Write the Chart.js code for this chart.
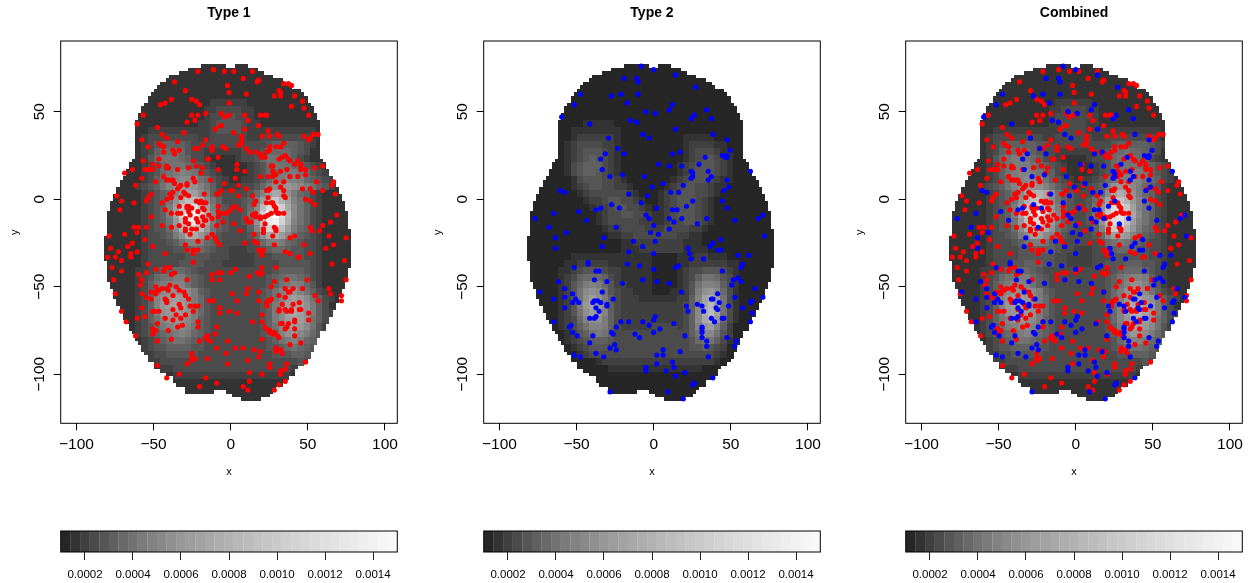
<!DOCTYPE html>
<html>
<head>
<meta charset="utf-8">
<style>
  body { margin: 0; background: #fff; }
  canvas { position: absolute; }
</style>
<script src="https://cdn.jsdelivr.net/npm/chart.js@4/dist/chart.umd.min.js"></script>
</head>
<body>
<script>
const xTicks = [-100, -50, 0, 50, 100];
const yTicks = [50, 0, -50, -100];
const barTicks = [0.0002, 0.0004, 0.0006, 0.0008, 0.001, 0.0012, 0.0014];

// density bands of the colour bar, and the grey of each level (base 36 in the level rows)
const bandValues = [0.00012, 0.00016, 0.0002, 0.00024, 0.00028, 0.00032, 0.00036, 0.0004, 0.00044, 0.00048, 0.00052, 0.00056, 0.0006, 0.00064, 0.00068, 0.00072, 0.00076, 0.0008, 0.00084, 0.00088, 0.00092, 0.00096, 0.001, 0.00104, 0.00108, 0.00112, 0.00116, 0.0012, 0.00124, 0.00128, 0.00132, 0.00136, 0.0014, 0.00144, 0.00148];
const grays = [38, 51, 64, 75, 86, 96, 105, 114, 123, 130, 137, 144, 151, 157, 162, 168, 173, 178, 184, 188, 193, 198, 202, 207, 211, 215, 219, 223, 227, 231, 234, 238, 241, 245, 248, 255];

// brain outline: y, first x, last x of each run of 2 unit cells
const maskRows = [[76,-18,-4],[76,4,10],[74,-26,16],[72,-32,20],[70,-38,26],[68,-40,32],[66,-44,36],[64,-46,38],[62,-48,44],[60,-50,46],[58,-52,48],[56,-52,48],[54,-54,50],[52,-56,52],[50,-56,52],[48,-58,54],[46,-58,54],[44,-60,56],[42,-60,56],[40,-60,56],[38,-60,56],[36,-60,56],[34,-60,56],[32,-60,56],[30,-60,56],[28,-60,56],[26,-60,56],[24,-60,56],[22,-62,58],[20,-64,60],[18,-64,60],[16,-66,62],[14,-66,62],[12,-68,64],[10,-70,66],[8,-70,66],[6,-72,68],[4,-72,68],[2,-74,70],[0,-74,70],[-2,-76,72],[-4,-76,72],[-6,-76,72],[-8,-78,74],[-10,-78,74],[-12,-78,74],[-14,-78,74],[-16,-78,74],[-18,-78,76],[-20,-78,76],[-22,-80,76],[-24,-80,76],[-26,-80,76],[-28,-80,76],[-30,-80,76],[-32,-80,76],[-34,-80,76],[-36,-78,76],[-38,-78,76],[-40,-78,74],[-42,-78,74],[-44,-78,74],[-46,-78,74],[-48,-76,72],[-50,-76,72],[-52,-74,70],[-54,-74,70],[-56,-74,68],[-58,-72,68],[-60,-72,66],[-62,-70,66],[-64,-70,64],[-66,-68,64],[-68,-68,62],[-70,-66,62],[-72,-64,60],[-74,-64,60],[-76,-62,56],[-78,-60,56],[-80,-60,54],[-82,-58,54],[-84,-56,52],[-86,-56,52],[-88,-54,50],[-90,-52,50],[-92,-52,48],[-94,-48,46],[-96,-48,42],[-98,-44,40],[-100,-40,40],[-102,-36,36],[-104,-36,32],[-106,-34,32],[-108,-28,28],[-110,-28,-12],[-110,-2,26],[-112,2,24],[-114,8,18]];

// density levels on a 4 unit grid: rows y = 76, 72 ... -112, columns x = -80, -76 ... 76
const type1Levels = [
"1111111111 1111111111 1111111111 1111111111",
"1111111111 1111111111 1111111111 1111111111",
"1111111111 1111111111 1111111111 1111111111",
"1111111111 1111111111 1111111111 1111111111",
"1111111111 1111111111 1111111111 1111111111",
"1111111111 1111111222 2221111111 1111111111",
"1111111111 1111112233 3322111111 1111111111",
"1111111111 1111112334 4332111111 1111111111",
"1111111111 1111122344 4432211111 1111111111",
"1111111222 2222222344 4432222222 2222111111",
"1111112333 3333322333 3332233333 3332111111",
"1111112345 5554333333 3333334555 5432111111",
"1111112356 6664332222 2233346666 5431111111",
"1111112467 7765332111 1233467776 5321111111",
"1111112346 7776543211 1112346777 6543211111",
"1111112346 7898754321 1112346788 8764321111",
"1111112356 89aa976432 1122346889 9865432111",
"1111123457 9bccb97532 2233468abc ba87542111",
"1111112345 69ceda8543 333469dfeb 8653211111",
"1111112345 7bgkjfa753 33458djlhd 9753211111",
"1111112345 8dlsrld854 3346ajrtnf a753211111",
"1111112345 8enwxqg954 3347cnyzqh a753211111",
"1111112345 7cktune854 3346bkuwog 9753211111",
"1111112344 6agmnic754 33359hopjd 8653211111",
"1111112334 58bffc9643 33346bfgda 7543211111",
"1111112333 4579986543 3333468986 5433211111",
"1111112333 3445665433 2223345665 4433211111",
"1111112333 3334444333 2222333444 4433211111",
"1111112333 3344443332 2222333344 4443211111",
"1111122345 5665433333 3333333455 5543211111",
"1111123467 7886543333 3333334567 7653211111",
"1111123578 9997543333 3333334578 9864211111",
"111112358a bbba854333 333334579b b975321111",
"111112359b cdcb864333 333334579c dca7532111",
"111112359c dedb864333 33333458ad edb8531111",
"111112358b cdcb864333 33333458ae fdb8532111",
"1111123579 bcba854333 33333458ad edb7532111",
"1111123468 9aa9754333 33333457ac dca7421111",
"1111123456 7898654333 333334569b ca86421111",
"1111112345 6776543333 3333334578 9865321111",
"1111112344 5555443333 3333334456 7654321111",
"1111112233 4444433333 3333333444 5543211111",
"1111111223 3333333333 3333333333 3432111111",
"1111111112 2333333333 3333333333 2221111111",
"1111111111 1222222222 2222222222 1111111111",
"1111111111 1111111111 1111111111 1111111111",
"1111111111 1111111111 1111111111 1111111111",
"1111111111 1111111111 1111111111 1111111111"
];
const type2Levels = [
"0000000000 0000000000 0000000000 0000000000",
"0000000000 0000000000 0000000000 0000000000",
"0000000000 0000000000 0000000000 0000000000",
"0000000000 0000000000 0000000000 0000000000",
"0000000000 0000000000 0000000000 0000000000",
"0000000000 0000000000 0000000000 0000000000",
"0000000000 0000000000 0000000000 0000000000",
"0000000000 0000000000 0000000000 0000000000",
"0000000001 1111000000 0000000000 0000000000",
"0000000111 1111100000 0000000000 0000000000",
"0000000122 2222100000 0000011111 0000000000",
"0000001233 3322100000 0000012222 1100000000",
"0000001234 4432100000 0000012333 2110000000",
"0000001234 5432100000 0000012344 3210000000",
"0000001345 5532100000 0000123444 3210000000",
"0000001345 5432100000 0000123444 3210000000",
"0000000134 4433210000 0001234443 2110000000",
"0000000123 4433221000 0012344332 1100000000",
"0000000012 3333332100 0123444332 1000000000",
"0000000001 2234433210 0123444321 0000000000",
"0000000000 1223443321 0123444321 0000000000",
"0000000000 0123344332 1123444321 0000000000",
"0000000000 0123333322 1123344321 0000000000",
"0000000000 0012233332 2233332210 0000000000",
"0000000000 0001122333 3333221100 0000000000",
"0000000000 0000011222 2222211100 0000000000",
"0000000000 0000011122 2222211110 0000000000",
"0000000111 1111111111 0000111221 1100000000",
"0000001122 2221111111 0000112222 2211000000",
"0000011234 4432211111 0000123344 4321000000",
"0000012356 6653211111 0000123577 6431000000",
"0000012468 9864221111 0000124799 8531000000",
"000001247a ba74322111 00011248bc a631000000",
"000001247b db85322211 11112259eg d731000000",
"000001248c ec95322222 2222235afi e731000000",
"000001247b dc95322222 2222235agj e731000000",
"0000012369 bb85322222 2222235afh c631000000",
"0000012357 9985322222 33332359cd 9520000000",
"0000001245 7875333333 33333357aa 7420000000",
"0000001234 5554333333 3333334677 5310000000",
"0000000123 4443333333 3333334454 3200000000",
"0000000012 3333333333 3333333333 2100000000",
"0000000000 0122222222 2222222222 1000000000",
"0000000000 0001111111 1111111100 0000000000",
"0000000000 0000000000 0000000000 0000000000",
"0000000000 0000000000 0000000000 0000000000",
"0000000000 0000000000 0000000000 0000000000",
"0000000000 0000000000 0000000000 0000000000"
];
const combinedLevels = [
"1111111111 1111111111 1111111111 1111111111",
"1111111111 1111111111 1111111111 1111111111",
"1111111111 1111111111 1111111111 1111111111",
"1111111111 1111111111 1111111111 1111111111",
"1111111111 1111111111 1111111111 1111111111",
"1111111111 1111111222 2221111111 1111111111",
"1111111111 1111112233 3322111111 1111111111",
"1111111111 1111112333 3332111111 1111111111",
"1111111111 1111112233 3322111111 1111111111",
"1111111222 2222222233 3322222222 2222111111",
"1111112333 3333322333 3332233333 3332111111",
"1111112345 5555443333 3333334555 5543211111",
"1111112356 6765433222 2223346676 6543111111",
"1111112467 8876533211 1123346777 6532111111",
"1111112357 8887654321 1112346777 7654321111",
"1111112357 8998765321 1112346788 8754321111",
"1111112356 89aa975432 1223467889 9765321111",
"1111123457 9bccb97543 223458bcca 8654211111",
"1111112345 7aeghfb754 33346aegeb 8653211111",
"1111112345 7bgkkfa754 33469ejkhc 9753211111",
"1111112345 8dkqpjc854 3347bjqsle 9753211111",
"1111112345 8emrsme964 3347clrsmf a753211111",
"1111112345 7cjqrkd854 3346bjqrkd 9753211111",
"1111112344 6afkkfb754 33359gmnhc 8653211111",
"1111112334 58adda9643 33346adec9 7543211111",
"1111112333 4578875433 3333467876 5433211111",
"1111112333 3445555433 2223345665 4433211111",
"1111112333 3444444332 2223334444 4433211111",
"1111112333 4455544332 2223344455 5443211111",
"1111122345 5665433333 3333334566 6543211111",
"1111123467 7886543333 3333345789 9853211111",
"1111123578 9997543333 333334579b b964211111",
"111112358a bbba854333 33333468bd ca75321111",
"111112359b cdcb864333 33333468ce ecb8532111",
"111112359c dedb864333 33333469df gec8531111",
"111112358b cdcb864333 33333469dg hec8532111",
"1111123579 bcba854333 33333469cf gdb7532111",
"1111123468 9aa9754333 33333458be eca7421111",
"1111123456 7898654333 33333457ac ca86421111",
"1111112345 6776543333 3333334689 9865321111",
"1111112344 5555443333 3333334567 7654321111",
"1111112233 4444433333 3333333445 5543211111",
"1111111223 3333333333 3333333333 3432111111",
"1111111112 2333333333 3333333333 2221111111",
"1111111111 1222222222 2222222222 1111111111",
"1111111111 1111111111 1111111111 1111111111",
"1111111111 1111111111 1111111111 1111111111",
"1111111111 1111111111 1111111111 1111111111"
];

const type1Points = [[-21,73],[-11,74],[-4,73],[2,73],[14,73],[8,69],[18,68],[17,67],[-36,67],[-2,65],[34,66],[37,66],[39,65],[31,62],[32,61],[-29,62],[-1,61],[10,60],[28,59],[32,59],[41,59],[-38,57],[-25,57],[-22,56],[-20,54],[-42,55],[-45,54],[-1,55],[46,56],[39,53],[47,52],[-6,49],[-1,48],[-16,49],[-21,48],[-25,48],[-4,47],[-56,48],[9,48],[19,48],[22,48],[23,48],[50,48],[11,45],[-23,45],[-28,44],[-60,43],[18,42],[-7,42],[-6,42],[-10,40],[-47,41],[9,40],[-30,38],[2,38],[24,39],[30,37],[-44,37],[-41,35],[47,36],[53,37],[56,37],[51,35],[50,34],[20,36],[25,36],[31,36],[7,36],[7,34],[-16,34],[-57,34],[-34,33],[7,32],[6,31],[5,31],[-46,32],[-45,31],[-43,30],[-18,31],[-12,30],[-12,29],[-12,28],[-53,30],[-5,30],[-3,29],[-23,29],[-21,29],[10,29],[25,30],[29,30],[32,30],[34,32],[-37,28],[-43,27],[-33,28],[-36,26],[16,27],[12,27],[19,26],[23,27],[25,28],[19,25],[20,24],[22,24],[35,25],[33,24],[31,23],[38,22],[37,23],[43,22],[-46,23],[-8,24],[-14,23],[-15,23],[-24,22],[41,20],[45,20],[-56,22],[-50,20],[-46,19],[4,20],[26,19],[27,19],[-41,19],[-40,18],[-41,18],[-27,18],[-22,19],[-18,18],[-8,17],[4,17],[45,19],[45,17],[54,18],[59,19],[-55,17],[-53,17],[-51,17],[-50,17],[-34,17],[-63,17],[-68,15],[36,17],[48,17],[27,16],[28,15],[29,14],[32,16],[9,16],[-19,15],[48,14],[38,13],[43,13],[19,13],[24,13],[27,13],[-43,13],[-57,12],[-41,11],[-40,11],[-38,11],[-37,11],[-24,12],[-23,10],[-48,10],[-13,11],[3,12],[34,10],[29,10],[55,10],[66,10],[-36,9],[-28,9],[-28,8],[-32,8],[-33,7],[-34,6],[-4,9],[5,8],[32,7],[65,8],[-61,8],[10,6],[46,6],[51,6],[59,5],[25,6],[23,5],[24,5],[34,5],[-6,5],[-8,3],[-9,3],[0,5],[1,5],[5,2],[-37,4],[-30,4],[-29,3],[-27,2],[-32,1],[-39,3],[-17,3],[53,4],[67,3],[-73,2],[34,2],[35,1],[14,2],[24,1],[-53,1],[-51,3],[-54,-1],[-41,0],[-38,1],[48,0],[51,-1],[-70,-1],[-62,-2],[-44,-2],[-22,-1],[-20,-2],[-19,-1],[-18,-2],[-16,-2],[-8,-4],[26,-2],[27,-2],[23,-2],[28,-4],[15,-3],[16,-1],[54,-3],[-33,-4],[-28,-4],[-27,-4],[-28,-5],[-25,-5],[-71,-6],[3,-4],[1,-5],[6,-6],[-42,-6],[-21,-7],[-18,-5],[-17,-6],[-14,-9],[-8,-7],[-6,-8],[-3,-8],[-1,-7],[29,-5],[29,-7],[30,-8],[31,-8],[26,-8],[22,-10],[24,-9],[14,-9],[16,-8],[16,-10],[19,-11],[34,-8],[-38,-8],[-34,-8],[-32,-8],[-27,-7],[-26,-9],[-51,-10],[-18,-10],[10,-11],[68,-9],[-29,-11],[-29,-13],[-22,-11],[-21,-13],[-17,-12],[-16,-12],[-12,-11],[-8,-10],[-5,-13],[11,-13],[13,-13],[19,-10],[22,-14],[59,-15],[64,-13],[-44,-15],[-62,-16],[-59,-16],[-54,-16],[-38,-16],[-33,-15],[-27,-14],[-18,-15],[-9,-15],[2,-14],[28,-16],[29,-17],[51,-16],[-29,-17],[-25,-17],[-22,-17],[21,-17],
[-78,-21],[-68,-20],[-60,-19],[-55,-23],[-29,-18],[-26,-20],[-15,-22],[-12,-20],[-10,-22],[-9,-24],[-7,-26],[-21,-24],[-29,-26],[-28,-29],[-24,-29],[-21,-29],[-24,-31],[-50,-27],[-63,-25],[-66,-27],[-77,-28],[-72,-30],[-74,-33],[-79,-33],[-70,-35],[-64,-31],[-64,-33],[-60,-30],[-42,-31],[-24,-36],[-53,-37],[-76,-39],[-70,-41],[-59,-43],[-54,-42],[-48,-40],[-42,-39],[-43,-41],[-39,-39],[-38,-43],[-36,-42],[-12,-43],[-8,-42],[-6,-42],[0,-42],[3,-40],[12,-44],[-12,-46],[-7,-46],[-28,-46],[-57,-46],[-58,-49],[-75,-46],[-74,-54],[-48,-50],[-46,-52],[-44,-51],[-41,-51],[-40,-52],[-39,-49],[-35,-50],[-33,-52],[-30,-53],[-29,-55],[-37,-55],[-27,-57],[-48,-53],[-48,-54],[-51,-53],[-57,-54],[-54,-56],[-51,-57],[-42,-57],[-41,-58],[-41,-59],[-33,-60],[-32,-62],[-37,-63],[-26,-61],[-23,-61],[-21,-61],[-14,-58],[-11,-58],[-7,-62],[-7,-65],[-1,-64],[4,-65],[4,-58],[1,-54],[10,-54],[11,-51],[18,-53],[18,-58],[26,-50],[28,-47],[36,-46],[49,-46],[46,-51],[35,-51],[37,-53],[38,-53],[40,-51],[31,-55],[35,-56],[33,-60],[24,-58],[25,-58],[23,-59],[26,-57],[23,-61],[40,-60],[44,-59],[-57,-62],[-50,-64],[-49,-64],[-46,-64],[-35,-66],[-32,-68],[-29,-66],[-24,-64],[-55,-67],[-60,-68],[-70,-64],[-67,-70],[-42,-68],[-37,-69],[-47,-71],[-31,-72],[-21,-70],[31,-63],[31,-64],[35,-63],[36,-64],[39,-63],[39,-64],[44,-63],[45,-63],[50,-65],[50,-69],[20,-66],[20,-70],[14,-70],[33,-71],[32,-71],[37,-71],[36,-73],[35,-74],[41,-69],[41,-70],[41,-74],[-50,-74],[-48,-75],[-50,-77],[-34,-73],[-40,-75],[-21,-73],[-9,-73],[-10,-77],[22,-73],[23,-74],[25,-75],[25,-76],[27,-77],[28,-76],[30,-78],[31,-79],[41,-78],[-61,-78],[-15,-78],[-16,-79],[-15,-80],[-13,-81],[-20,-81],[-38,-80],[-47,-81],[-2,-81],[20,-80],[45,-82],[38,-83],[-9,-85],[3,-85],[8,-85],[15,-86],[19,-87],[29,-85],[29,-87],[32,-86],[33,-88],[-3,-88],[-25,-88],[-23,-91],[-25,-91],[-25,-92],[-15,-91],[18,-90],[11,-92],[-2,-94],[-28,-94],[-47,-95],[25,-94],[25,-96],[36,-94],[35,-97],[48,-93],[32,-98],[32,-100],[20,-100],[12,-99],[12,-104],[-33,-100],[-41,-102],[-16,-102],[35,-104],[31,-106],[-9,-105],[8,-107],[11,-109],[-20,-107],[28,-109],
[9,-25],[15,-20],[21,-19],[6,-18],[27,-21],[29,-18],[15,-24],[17,-25],[28,-26],[18,-29],[21,-29],[19,-30],[20,-32],[35,-30],[38,-31],[43,-33],[44,-33],[51,-31],[47,-26],[38,-22],[41,-21],[52,-18],[57,-18],[63,-21],[74,-22],[61,-28],[66,-26],[73,-35],[65,-37],[20,-39],[29,-39],[17,-42],[19,-43],[20,-42],[74,-46],[63,-51],[64,-54],[54,-55],[56,-58],[71,-55],[71,-58]];

const type2Points = [[-8,76],[0,74],[14,71],[-19,69],[-11,69],[-10,67],[27,64],[-47,60],[-21,60],[-27,59],[-10,60],[-51,54],[-17,55],[12,54],[10,51],[-5,50],[1,49],[34,51],[26,48],[24,46],[37,46],[-59,47],[-15,45],[-11,44],[-41,43],[14,40],[-7,37],[-3,35],[38,37],[-29,35],[47,34],[-23,29],[-31,26],[-19,26],[49,28],[17,27],[12,26],[-34,23],[33,24],[44,25],[47,25],[46,24],[47,24],[3,20],[10,19],[18,19],[29,20],[-33,17],[24,16],[25,15],[35,16],[62,16],[37,13],[-28,13],[-20,14],[-6,13],[25,13],[24,12],[35,11],[47,11],[48,7],[6,9],[19,8],[-1,7],[45,5],[-60,5],[-57,4],[11,4],[16,4],[-16,3],[-4,2],[44,-1],[25,-1],[-27,-3],[-8,-2],[21,-4],[-34,-5],[-37,-6],[-22,-5],[2,-5],[47,-5],[15,-6],[12,-6],[-64,-8],[-48,-7],[70,-9],[-5,-9],[18,-11],[-3,-11],[-76,-11],[67,-11],[10,-11],[34,-11],[52,-12],[-43,-12],[13,-13],[28,-14],[0,-15],[-67,-16],[-24,-16],[10,-17],
[-56,-19],[-63,-22],[-63,-28],[-32,-22],[-33,-27],[-2,-19],[3,-20],[-13,-24],[-7,-27],[1,-24],[71,-21],[-16,-30],[0,-31],[22,-28],[23,-31],[24,-34],[32,-34],[36,-27],[38,-25],[41,-29],[43,-29],[43,-23],[54,-32],[61,-32],[57,-37],[56,-39],[-42,-36],[-42,-37],[-51,-39],[-17,-37],[-9,-38],[0,-40],[14,-39],[16,-38],[-37,-41],[-35,-41],[44,-41],[-61,-47],[-38,-46],[-30,-47],[-20,-48],[-7,-46],[2,-47],[10,-48],[51,-46],[54,-45],[56,-47],[50,-49],[-73,-53],[-57,-51],[-52,-54],[-33,-53],[18,-53],[41,-54],[65,-51],[-64,-57],[-57,-56],[-50,-57],[-48,-59],[-52,-59],[-39,-59],[-38,-58],[-36,-58],[-34,-59],[-30,-60],[-30,-61],[-26,-57],[37,-57],[38,-57],[42,-59],[52,-56],[70,-56],[63,-58],[62,-59],[-57,-62],[-37,-62],[-35,-64],[21,-61],[22,-64],[28,-60],[31,-61],[32,-64],[40,-62],[41,-63],[48,-61],[57,-62],[63,-65],[-64,-70],[-41,-68],[-38,-68],[-37,-67],[1,-67],[0,-69],[-7,-70],[-21,-70],[-16,-70],[37,-68],[39,-70],[44,-68],[45,-68],[62,-70],[-53,-72],[-54,-73],[-24,-73],[-3,-72],[13,-71],[4,-74],[31,-73],[31,-74],[31,-76],[-52,-76],[-49,-78],[-27,-76],[-26,-77],[-12,-77],[0,-76],[-9,-79],[20,-78],[-39,-78],[-41,-82],[31,-79],[34,-81],[47,-79],[53,-81],[52,-84],[34,-84],[-28,-85],[-25,-83],[-24,-86],[-37,-88],[6,-86],[17,-87],[-51,-89],[-47,-90],[-32,-90],[2,-89],[6,-89],[35,-90],[2,-94],[12,-93],[13,-96],[-5,-96],[-5,-98],[8,-98],[20,-99],[14,-101],[38,-102],[26,-105],[25,-106],[-28,-110],[9,-110],[19,-114]];

// my readings of x came out about 1% short of the axis
const xReadFix = 1.011;
const fontFamily = '"Liberation Sans", Helvetica, Arial, sans-serif';

// one small swatch per level, used as point style for the image cells
const swatches = grays.map(g => {
    const c = document.createElement("canvas");
    c.width = 4;
    c.height = 4;
    const cx = c.getContext("2d");
    cx.fillStyle = `rgb(${g},${g},${g})`;
    cx.fillRect(0, 0, 4, 4);
    return c;
});

function cellsFrom(levels) {
    const cells = [];
    for (const [y, x0, x1] of maskRows) {
        const row = levels[Math.floor((76 - y) / 4)].replace(/ /g, "");
        for (let x = x0; x <= x1; x += 2) {
            const ch = row[Math.floor((x + 80) / 4)] || "0";
            cells.push({ x: x * xReadFix, y: y, level: parseInt(ch, 36) });
        }
    }
    return cells;
}

function asXY(points) {
    return points.map(p => ({ x: p[0] * xReadFix, y: p[1] }));
}

const boxPlugin = {
    id: "box",
    afterDatasetsDraw(chart) {
        const a = chart.chartArea;
        const ctx = chart.ctx;
        ctx.save();
        ctx.strokeStyle = "#000";
        ctx.lineWidth = 1;
        ctx.strokeRect(a.left, a.top, a.right - a.left, a.bottom - a.top);
        ctx.restore();
    }
};

function addCanvas(left, top, width, height) {
    const c = document.createElement("canvas");
    c.width = width;
    c.height = height;
    c.style.left = left + "px";
    c.style.top = top + "px";
    document.body.appendChild(c);
    return c;
}

function rTick(v) {
    return v < 0 ? "\u2212" + Math.abs(v) : String(v);
}

function drawPanel(left, title, levels, pointSets) {
    const datasets = pointSets.map((s, i) => ({
        label: s.label,
        data: asXY(s.points),
        backgroundColor: s.color,
        borderWidth: 0,
        pointRadius: 2.6,
        order: i
    }));
    datasets.push({
        label: "density",
        data: cellsFrom(levels),
        pointStyle: ctx => swatches[ctx.raw.level],
        pointRadius: 2,
        order: 5
    });
    new Chart(addCanvas(left, 0, 410, 500), {
        type: "scatter",
        data: { datasets: datasets },
        plugins: [boxPlugin],
        options: {
            responsive: false,
            animation: false,
            events: [],
            layout: { padding: { right: 12.7 } },
            plugins: {
                legend: { display: false },
                tooltip: { enabled: false },
                title: {
                    display: true,
                    text: title,
                    fullSize: false,
                    color: "#000",
                    font: { family: fontFamily, size: 14, weight: "bold" },
                    padding: { top: 5, bottom: 19.2 }
                }
            },
            scales: {
                x: {
                    type: "linear",
                    min: -110.2,
                    max: 108,
                    afterBuildTicks: s => { s.ticks = xTicks.map(v => ({ value: v })); },
                    afterFit: s => { s.height = 76.7; },
                    grid: { drawOnChartArea: false, tickLength: 7, tickColor: "#000", tickWidth: 1 },
                    border: { display: false },
                    ticks: { callback: rTick, color: "#000", font: { family: fontFamily, size: 15.5 }, padding: 5, maxRotation: 0, autoSkip: false },
                    title: { display: true, text: "x", color: "#000", font: { family: fontFamily, size: 11 }, padding: { top: 0, bottom: 21 } }
                },
                y: {
                    type: "linear",
                    min: -128,
                    max: 90.4,
                    afterBuildTicks: s => { s.ticks = yTicks.map(v => ({ value: v })); },
                    afterFit: s => { s.width = 60.7; },
                    grid: { drawOnChartArea: false, tickLength: 7, tickColor: "#000", tickWidth: 1 },
                    border: { display: false },
                    ticks: { callback: rTick, color: "#000", font: { family: fontFamily, size: 15.5 }, padding: -3, minRotation: 90, maxRotation: 90, crossAlign: "center", autoSkip: false },
                    title: { display: true, text: "y", color: "#000", font: { family: fontFamily, size: 11 }, padding: { top: 8, bottom: 0 } }
                }
            }
        }
    });
}

function drawColorBar(left) {
    new Chart(addCanvas(left, 520, 410, 63), {
        type: "bar",
        data: {
            datasets: [{
                data: bandValues.map(v => ({ x: v, y: 1 })),
                backgroundColor: grays.slice(0, bandValues.length).map(g => `rgb(${g},${g},${g})`),
                barPercentage: 1.02,
                categoryPercentage: 1,
                borderWidth: 0
            }]
        },
        plugins: [boxPlugin],
        options: {
            responsive: false,
            animation: false,
            events: [],
            layout: { padding: { left: 60.7, right: 12.7, top: 11 } },
            plugins: { legend: { display: false }, tooltip: { enabled: false } },
            scales: {
                x: {
                    type: "linear",
                    offset: false,
                    min: 0.0000988,
                    max: 0.0015012,
                    afterBuildTicks: s => { s.ticks = barTicks.map(v => ({ value: v })); },
                    afterFit: s => { s.height = 31; },
                    grid: { offset: false, drawOnChartArea: false, tickLength: 8, tickColor: "#222", tickWidth: 1 },
                    border: { display: false },
                    ticks: { callback: v => v.toFixed(4), color: "#000", font: { family: fontFamily, size: 11.5 }, padding: 8, maxRotation: 0, autoSkip: false }
                },
                y: { display: false, min: 0, max: 1 }
            }
        }
    });
}

drawPanel(0, "Type 1", type1Levels, [{ label: "Type 1", points: type1Points, color: "#ff0000" }]);
drawPanel(423, "Type 2", type2Levels, [{ label: "Type 2", points: type2Points, color: "#0000ff" }]);
drawPanel(845, "Combined", combinedLevels, [
    { label: "Type 2", points: type2Points, color: "#0000ff" },
    { label: "Type 1", points: type1Points, color: "#ff0000" }
]);
drawColorBar(0);
drawColorBar(423);
drawColorBar(845);
</script>
</body>
</html>
